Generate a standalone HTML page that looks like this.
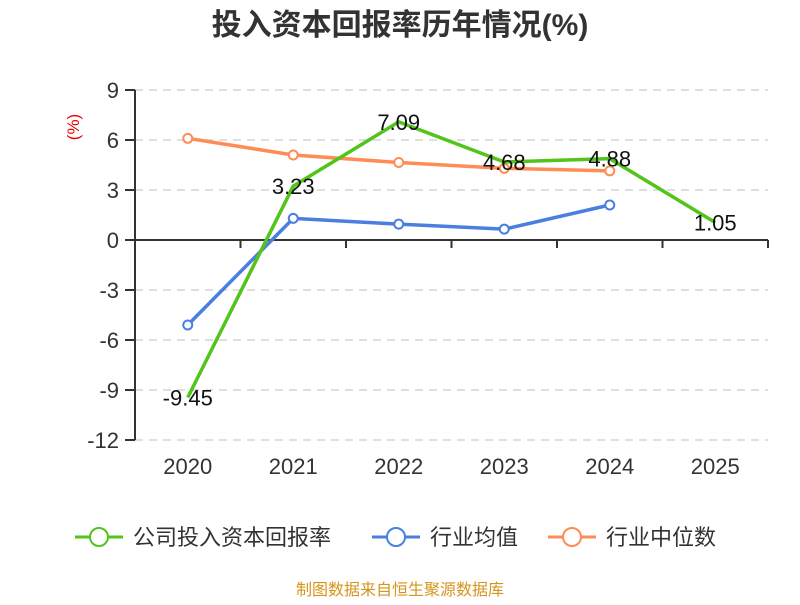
<!DOCTYPE html>
<html><head><meta charset="utf-8"><style>
body{margin:0;background:#fff;}
svg text{font-family:"Liberation Sans","Noto Sans CJK SC",sans-serif;}
</style></head><body>
<svg id="chart" width="800" height="600">
<text x="400" y="35" text-anchor="middle" font-size="30" font-weight="bold" fill="#333">投入资本回报率历年情况(%)</text>
<text transform="translate(79,127) rotate(-90)" text-anchor="middle" font-size="17" fill="#e00">(%)</text>
<g id="grid"></g><g id="axes"></g><g id="series"></g>
<g id="legend"></g>
<text x="400" y="595" text-anchor="middle" font-size="16" fill="#d4951c">制图数据来自恒生聚源数据库</text>
</svg>
<script>
const categories=["2020","2021","2022","2023","2024","2025"];
const yTicks=[9,6,3,0,-3,-6,-9,-12];
const companyRoi=[-9.45,3.23,7.09,4.68,4.88,1.05];
const industryAvg=[-5.1,1.3,0.95,0.65,2.1];
const industryMedian=[6.1,5.1,4.65,4.3,4.15];
const seriesNames=["公司投入资本回报率","行业均值","行业中位数"];
const colors=["#52c41a","#4a7fe0","#ff8c55"];
const NS="http://www.w3.org/2000/svg";
const L=135,R=768,T=90,B=440,yMax=9,yMin=-12;
const bw=(R-L)/categories.length;
const xs=i=>L+bw*(i+0.5);
const ys=v=>T+(yMax-v)/(yMax-yMin)*(B-T);
function mk(tag,attrs,parent){const e=document.createElementNS(NS,tag);for(const k in attrs)e.setAttribute(k,attrs[k]);parent.appendChild(e);return e;}
const grid=document.getElementById('grid'),axes=document.getElementById('axes'),ser=document.getElementById('series'),leg=document.getElementById('legend');
yTicks.forEach(v=>{
 if(v!==0){const g=mk('line',{x1:L,x2:R,y1:ys(v),y2:ys(v),stroke:'#ccc','stroke-dasharray':'8,6','stroke-width':1.3},grid);
 
 }
 const t=mk('line',{x1:L-10,x2:L,y1:ys(v),y2:ys(v),stroke:'#333','stroke-width':2},axes);
 
 
 const tx=mk('text',{x:L-16,y:ys(v)+8,'text-anchor':'end','font-size':22,fill:'#333'},axes);tx.textContent=v;
 
 
});
const ya=mk('line',{x1:L,x2:L,y1:T,y2:B,stroke:'#333','stroke-width':2},axes);


const xa=mk('line',{x1:L,x2:R,y1:ys(0),y2:ys(0),stroke:'#333','stroke-width':2},axes);


for(let i=0;i<=categories.length;i++){const t=mk('line',{x1:L+bw*i,x2:L+bw*i,y1:ys(0),y2:ys(0)+8,stroke:'#333','stroke-width':2},axes);
 
 }
categories.forEach((c,i)=>{const t=mk('text',{x:xs(i),y:474,'text-anchor':'middle','font-size':22,fill:'#333'},axes);t.textContent=c;
 
 });
function drawLine(data,color,name,markers){
 const pl=mk('polyline',{points:data.map((v,i)=>xs(i)+','+ys(v)).join(' '),fill:'none',stroke:color,'stroke-width':3.5,'stroke-linejoin':'round'},ser);
 
 
 if(markers)data.forEach((v,i)=>{const c=mk('circle',{cx:xs(i),cy:ys(v),r:4.5,fill:'#fff',stroke:color,'stroke-width':2},ser);
  
  });
}
drawLine(industryMedian,colors[2],'industry-median',true);
drawLine(industryAvg,colors[1],'industry-average',true);
drawLine(companyRoi,colors[0],'company-roi',false);
companyRoi.forEach((v,i)=>{const t=mk('text',{x:xs(i),y:ys(v)+8,'text-anchor':'middle','font-size':22,fill:'#111'},ser);
 t.textContent=v.toFixed(2);
 
 });
const lx=[75,372,548];
seriesNames.forEach((n,i)=>{
 const g=mk('g',{},leg);
 
 
 mk('line',{x1:lx[i],x2:lx[i]+48,y1:537,y2:537,stroke:colors[i],'stroke-width':3},g);
 mk('circle',{cx:lx[i]+24,cy:537,r:9,fill:'#fff',stroke:colors[i],'stroke-width':2},g);
 const t=mk('text',{x:lx[i]+58,y:545,'font-size':22,fill:'#333'},g);t.textContent=n;
});
</script>
</body></html>
